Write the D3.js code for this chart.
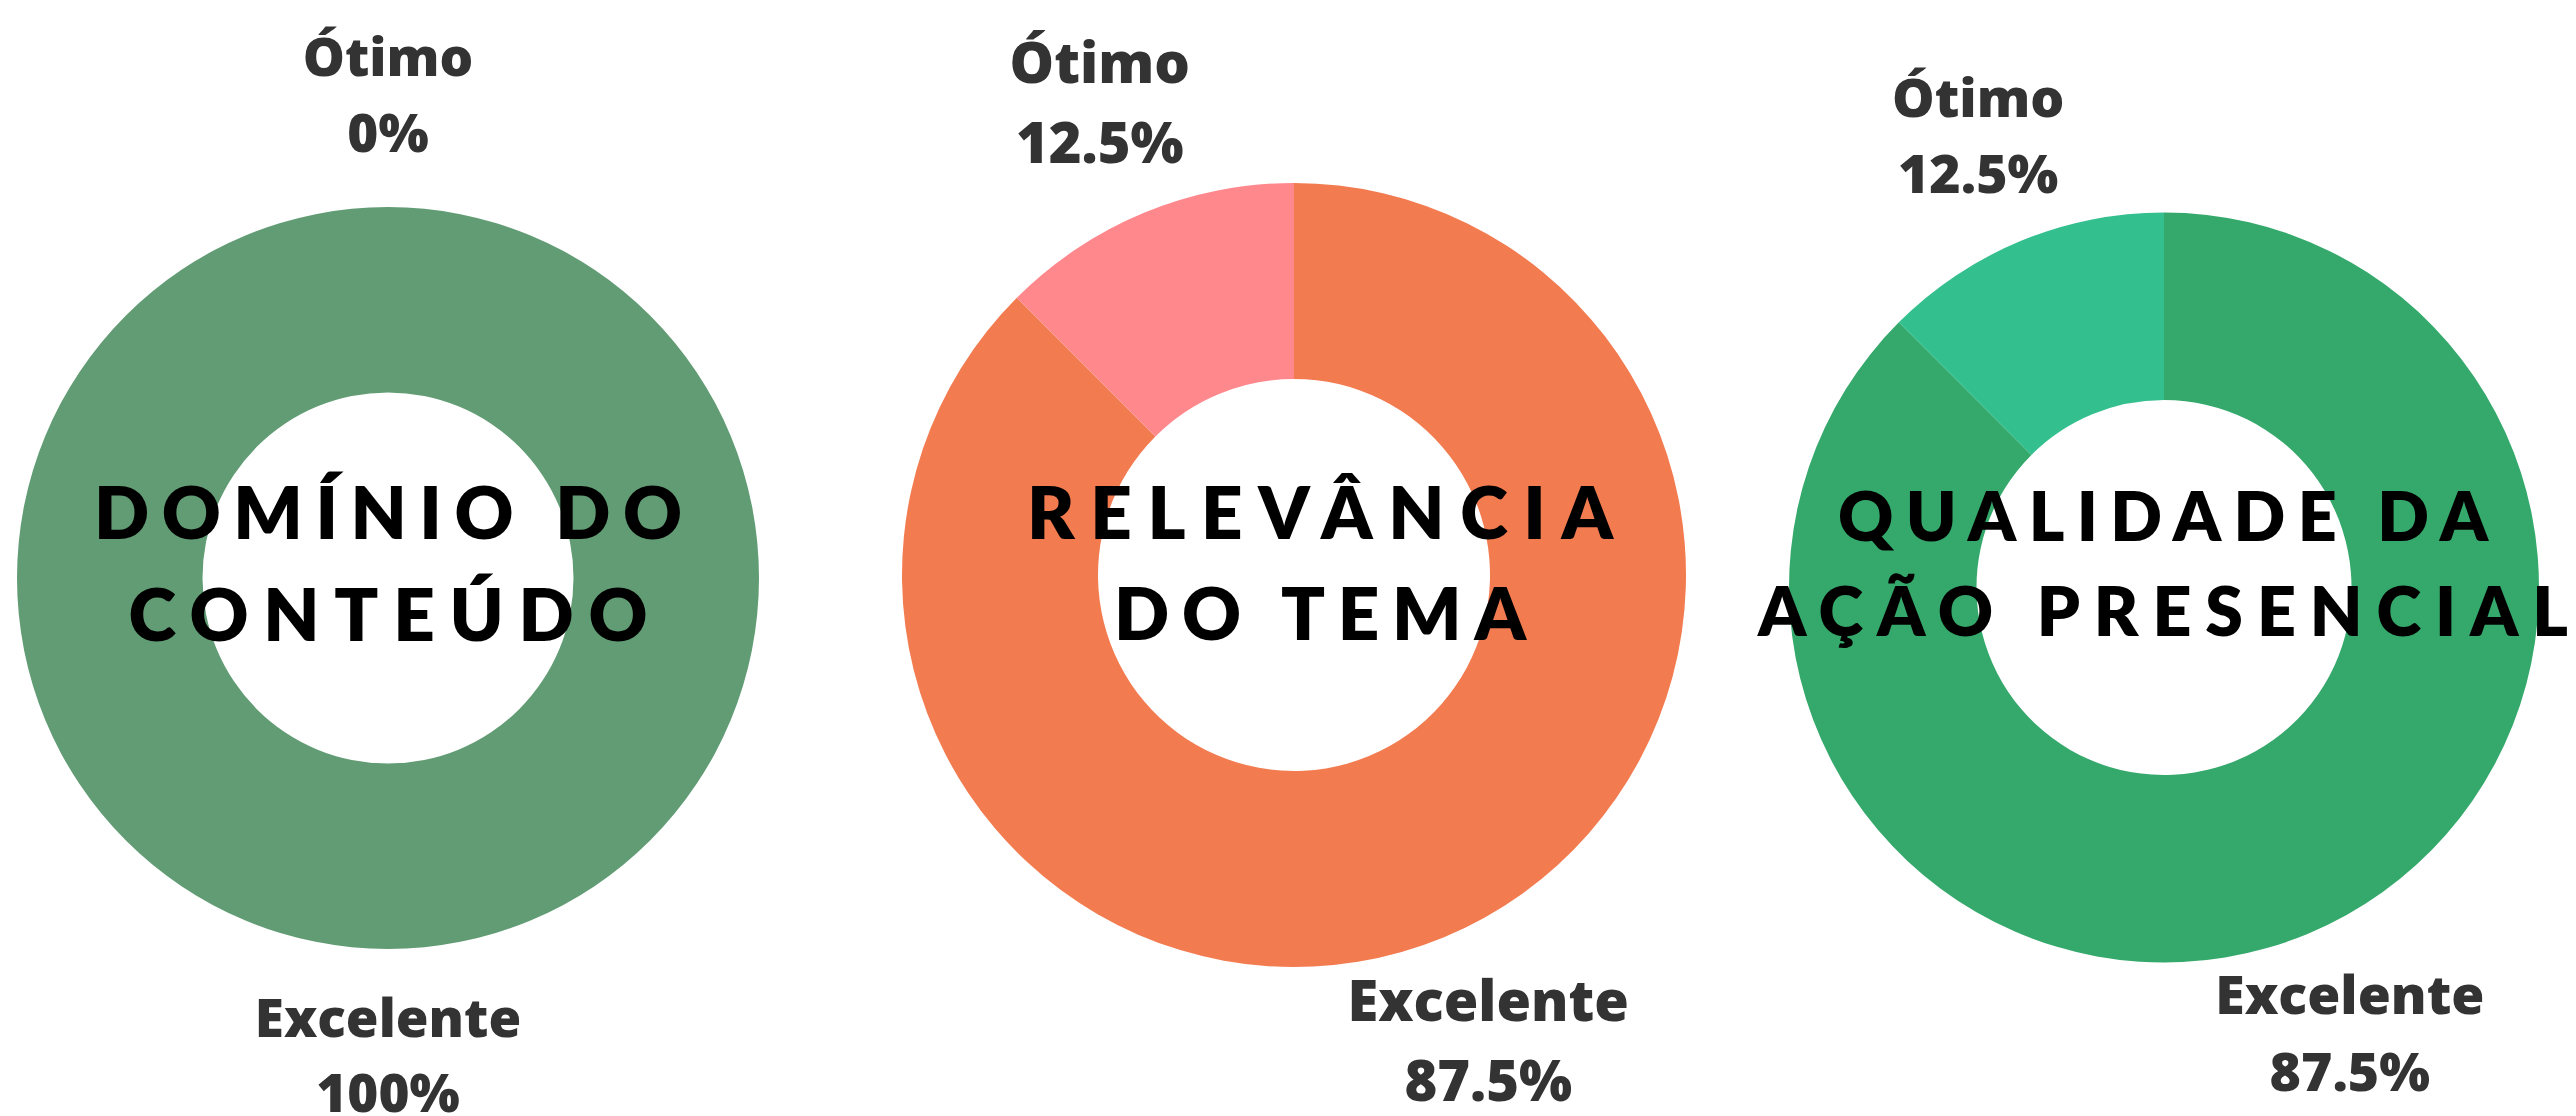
<!DOCTYPE html>
<html>
<head>
<meta charset="utf-8">
<script src="https://cdn.jsdelivr.net/npm/d3@7/dist/d3.min.js"></script>
<style>
  body { margin: 0; background: #fff; }
</style>
</head>
<body>
<div id="wrapper"></div>
<script>
// data
const categories = ["Excelente", "Ótimo"]
const excelente = [100, 87.5, 87.5]
const otimo = [0, 12.5, 12.5]
const titles = [
  ["DOMÍNIO DO", "CONTEÚDO"],
  ["RELEVÂNCIA", "DO TEMA"],
  ["QUALIDADE DA", "AÇÃO PRESENCIAL"],
]
const colours = [
  ["#619c74", "#619c74"],
  ["#f37b50", "#ff888d"],
  ["#35a96c", "#34bf8f"],
]

// layout of each donut (pixels)
const layout = [
  { cx: 388, cy: 578, r: 371, tx: 388, ty: [539, 641], tw: [588, 519], ts: 72.5 },
  { cx: 1294, cy: 575, r: 392, tx: 1320, ty: [539, 640], tw: [586, 412], ts: 72.5 },
  { cx: 2164, cy: 587.5, r: 375, tx: 2163, ty: [541, 636], tw: [650, 810], ts: 68 },
]

const width = 2576
const height = 1116

const svg = d3.select("#wrapper")
  .append("svg")
    .attr("width", width)
    .attr("height", height)

const pie = d3.pie()
  .sort(null)
  .value(d => d.value)

layout.forEach((l, i) => {
  const data = categories.map((c, j) => ({
    name: c,
    value: j === 0 ? excelente[i] : otimo[i],
  }))
  const arcs = pie(data)
  const s = l.r / 392

  const arc = d3.arc()
    .innerRadius(l.r * 0.5)
    .outerRadius(l.r)
  const labelArc = d3.arc()
    .innerRadius(l.r * 1.295)
    .outerRadius(l.r * 1.295)

  const g = svg.append("g")
    .attr("transform", `translate(${l.cx},${l.cy})`)

  g.selectAll("path")
    .data(arcs)
    .enter().append("path")
      .attr("d", arc)
      .attr("fill", (d, j) => colours[i][j])

  const labels = g.selectAll("text.label")
    .data(arcs)
    .enter().append("text")
      .attr("class", "label")
      .attr("text-anchor", "middle")
      .style("font-family", "'Open Sans', sans-serif")
      .style("font-weight", 800)
      .style("font-size", `${56 * s}px`)
      .attr("fill", "#333333")

  labels.append("tspan")
    .attr("x", d => labelArc.centroid(d)[0])
    .attr("y", d => labelArc.centroid(d)[1] - 23 * s)
    .text(d => d.data.name)
  labels.append("tspan")
    .attr("x", d => labelArc.centroid(d)[0])
    .attr("y", d => labelArc.centroid(d)[1] + 57 * s)
    .text(d => `${d.data.value}%`)

  // centre title
  titles[i].forEach((t, k) => {
    svg.append("text")
      .attr("x", l.tx)
      .attr("y", l.ty[k])
      .attr("text-anchor", "middle")
      .attr("textLength", l.tw[k])
      .attr("lengthAdjust", "spacing")
      .style("font-family", "Lato, sans-serif")
      .style("font-weight", 800)
      .style("font-size", `${l.ts}px`)
      .attr("fill", "#000")
      .text(t)
  })
})
</script>
</body>
</html>
